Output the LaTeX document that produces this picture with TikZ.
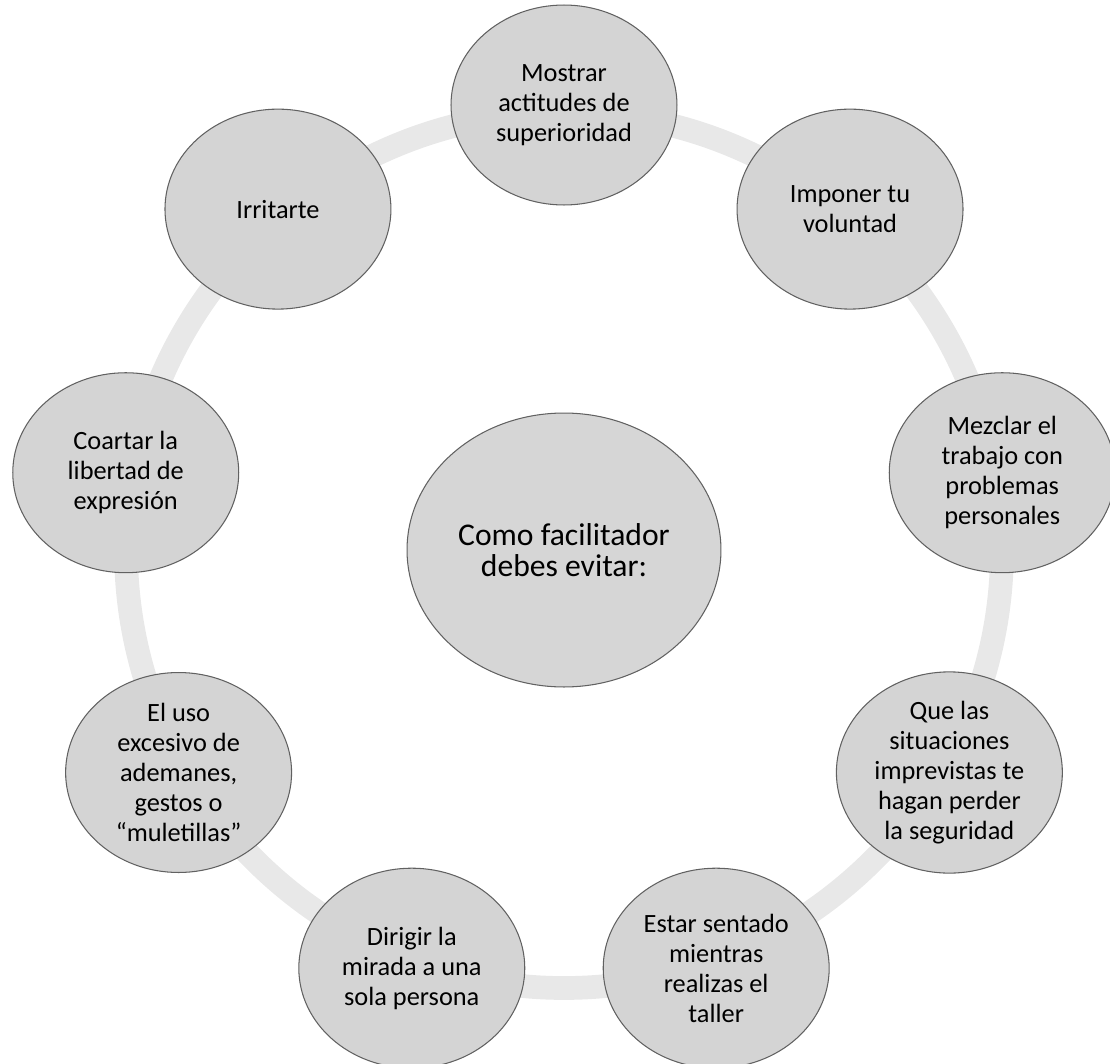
\documentclass[tikz,border=0pt]{standalone}
\usepackage{fontspec}
\setmainfont{Carlito}
\usetikzlibrary{shapes.geometric}

\tikzset{
  ring/.style={line width=13.5pt, draw=black!9},
  item/.style={ellipse, draw=black!62, fill=black!17, line width=0.6pt,
    minimum width=4.52cm, minimum height=4cm, inner sep=0pt, align=center,
    font=\fontsize{15}{17}\selectfont},
  hub/.style={ellipse, draw=black!62, fill=black!16, line width=0.6pt,
    minimum width=6.28cm, minimum height=5.48cm, inner sep=0pt, align=center,
    font=\fontsize{18}{17.5}\selectfont}
}

\begin{document}
\begin{tikzpicture}[x=0.02cm, y=0.02cm]
    \useasboundingbox (-564,-513) rectangle (546,550);
    % background ring
    \draw[ring] (0,0) circle (438);
    % centre
    \node[hub] (hub) at (0,0) {Como facilitador\\debes evitar:};
    % outer items
    \foreach \ang/\name/\txt in {
        90/sup/{Mostrar\\actitudes de\\superioridad},
        50/vol/{Imponer tu\\voluntad},
        10/mez/{Mezclar el\\trabajo con\\problemas\\personales},
        -30/imp/{Que las\\situaciones\\imprevistas te\\hagan perder\\la seguridad},
        -70/sen/{Estar sentado\\mientras\\realizas el\\taller},
        -110/mir/{Dirigir la\\mirada a una\\sola persona},
        -150/ges/{El uso\\excesivo de\\ademanes,\\gestos o\\“muletillas”},
        170/lib/{Coartar la\\libertad de\\expresión},
        130/irr/{Irritarte}}
        \node[item] (\name) at (\ang:445) {\txt};
\end{tikzpicture}
\end{document}
